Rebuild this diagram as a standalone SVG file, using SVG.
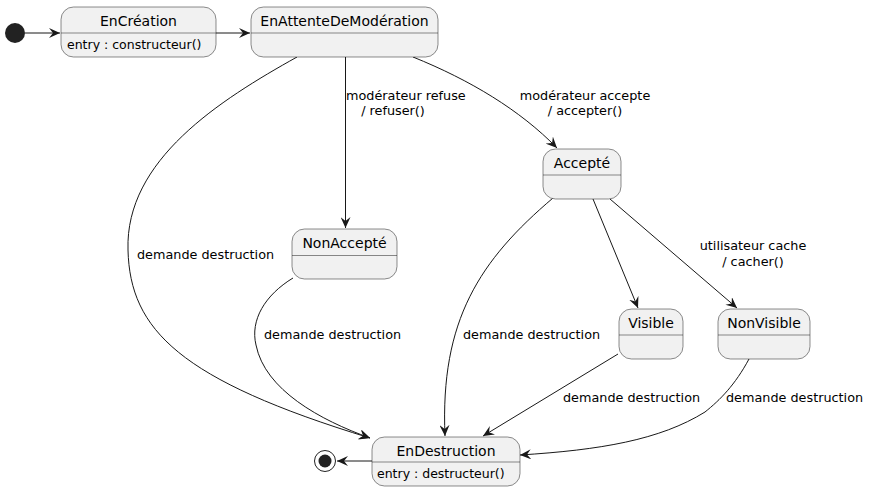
<svg xmlns="http://www.w3.org/2000/svg" width="869" height="491" viewBox="0 0 869 491">
<style>
.st{fill:#F1F1F1;stroke:#181818;stroke-width:0.5}
.dv{stroke:#181818;stroke-width:0.5}
.t{font-family:"DejaVu Sans",sans-serif;font-size:14px;fill:#000;text-anchor:middle}
.b{font-family:"DejaVu Sans",sans-serif;font-size:12.5px;fill:#000}
.l{font-family:"DejaVu Sans",sans-serif;font-size:12.8px;fill:#000}
.lc{font-family:"DejaVu Sans",sans-serif;font-size:12.8px;fill:#000;text-anchor:middle}
.e{fill:none;stroke:#181818;stroke-width:1}
</style>
<defs>
<marker id="ah" viewBox="0 0 12 10" refX="11" refY="5" markerWidth="12" markerHeight="10" markerUnits="userSpaceOnUse" orient="auto">
<path d="M0,0 L11,5 L0,10 L4,5 Z" fill="#181818"/>
</marker>
</defs>
<rect width="869" height="491" fill="#FFFFFF"/>
<g id="connectors">
<path class="e" marker-end="url(#ah)" d="M25,33 L60,33"/>
<path class="e" marker-end="url(#ah)" d="M216,33 L250,33"/>
<path class="e" marker-end="url(#ah)" d="M345.5,57 L345.5,228"/>
<path class="e" marker-end="url(#ah)" d="M413,57 C470,80 520,110 557,148"/>
<path class="e" marker-end="url(#ah)" d="M297,57 C220,100 125,160 128,250 C130,330 180,380 370,438"/>
<path class="e" marker-end="url(#ah)" d="M293,278 C265,295 250,320 256,345 C265,390 320,420 370,438"/>
<path class="e" marker-end="url(#ah)" d="M553,198 C480,260 440,320 445,436"/>
<path class="e" marker-end="url(#ah)" d="M593,199 L638,308"/>
<path class="e" marker-end="url(#ah)" d="M610,199 L737,308"/>
<path class="e" marker-end="url(#ah)" d="M618,354 L483,436"/>
<path class="e" marker-end="url(#ah)" d="M749,359 C735,385 720,400 705,412 C660,440 600,450 520,455"/>
<path class="e" marker-end="url(#ah)" d="M372,461 L337,461"/>
<text class="l" x="346" y="100">modérateur refuse</text>
<text class="lc" x="393" y="115">/ refuser()</text>
<text class="lc" x="585" y="100">modérateur accepte</text>
<text class="lc" x="585" y="115">/ accepter()</text>
<text class="l" x="137" y="259">demande destruction</text>
<text class="l" x="264" y="339">demande destruction</text>
<text class="l" x="463" y="339">demande destruction</text>
<text class="lc" x="753" y="250">utilisateur cache</text>
<text class="lc" x="753" y="266">/ cacher()</text>
<text class="l" x="563" y="402">demande destruction</text>
<text class="l" x="726" y="402">demande destruction</text>
</g>
<g id="start"><circle cx="15" cy="33" r="10" fill="#222222"/></g>
<g id="EnCreation">
<rect class="st" x="61" y="7" width="155" height="50" rx="12.5"/>
<line class="dv" x1="61" y1="33" x2="216" y2="33"/>
<text class="t" x="138.5" y="26">EnCréation</text>
<text class="b" x="67" y="49">entry : constructeur()</text>
</g>
<g id="EnAttenteDeModeration">
<rect class="st" x="251" y="7" width="187" height="50" rx="12.5"/>
<line class="dv" x1="251" y1="33" x2="438" y2="33"/>
<text class="t" x="344.5" y="26">EnAttenteDeModération</text>
</g>
<g id="Accepte">
<rect class="st" x="543" y="149" width="78" height="50" rx="12.5"/>
<line class="dv" x1="543" y1="175" x2="621" y2="175"/>
<text class="t" x="582" y="168">Accepté</text>
</g>
<g id="NonAccepte">
<rect class="st" x="292" y="229" width="105" height="50" rx="12.5"/>
<line class="dv" x1="292" y1="255.5" x2="397" y2="255.5"/>
<text class="t" x="344.5" y="248">NonAccepté</text>
</g>
<g id="Visible">
<rect class="st" x="619" y="309" width="64" height="50" rx="12.5"/>
<line class="dv" x1="619" y1="335" x2="683" y2="335"/>
<text class="t" x="651" y="328">Visible</text>
</g>
<g id="NonVisible">
<rect class="st" x="718" y="309" width="92" height="50" rx="12.5"/>
<line class="dv" x1="718" y1="335" x2="810" y2="335"/>
<text class="t" x="764" y="328">NonVisible</text>
</g>
<g id="EnDestruction">
<rect class="st" x="372" y="437" width="148" height="49" rx="12.5"/>
<line class="dv" x1="372" y1="462" x2="520" y2="462"/>
<text class="t" x="446" y="456">EnDestruction</text>
<text class="b" x="377" y="478">entry : destructeur()</text>
</g>
<g id="end">
<circle cx="325" cy="461" r="10.5" fill="#FFFFFF" stroke="#222222" stroke-width="1"/>
<circle cx="325" cy="461" r="6.5" fill="#222222"/>
</g>
</svg>
